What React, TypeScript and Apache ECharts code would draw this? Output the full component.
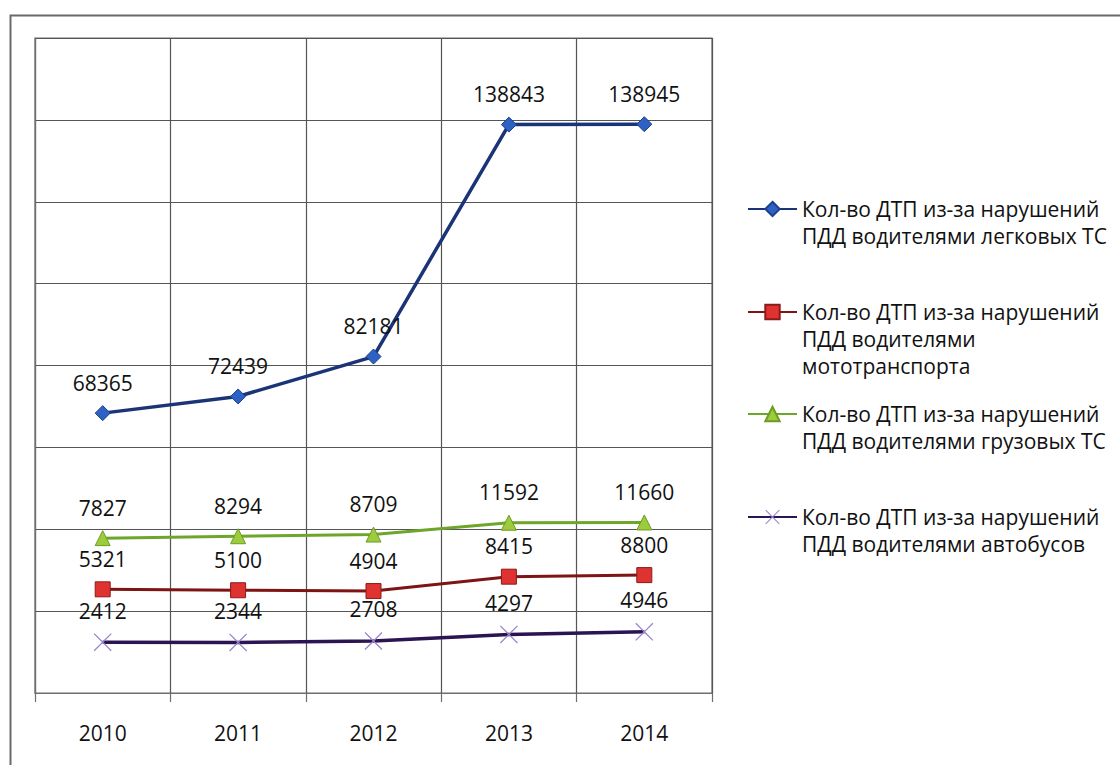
import React, { useEffect, useRef } from "react";
import * as echarts from "echarts";

const categories = ["2010", "2011", "2012", "2013", "2014"];
const carsValues = [68365, 72439, 82181, 138843, 138945];
const motoValues = [5321, 5100, 4904, 8415, 8800];
const truckValues = [7827, 8294, 8709, 11592, 11660];
const busValues = [2412, 2344, 2708, 4297, 4946];

const seriesNames = [
  "Кол-во ДТП из-за нарушений ПДД водителями легковых ТС",
  "Кол-во ДТП из-за нарушений ПДД водителями мототранспорта",
  "Кол-во ДТП из-за нарушений ПДД водителями грузовых ТС",
  "Кол-во ДТП из-за нарушений ПДД водителями автобусов",
];
const legendLines = [
  ["Кол-во ДТП из-за нарушений", "ПДД водителями легковых ТС"],
  ["Кол-во ДТП из-за нарушений", "ПДД водителями", "мототранспорта"],
  ["Кол-во ДТП из-за нарушений", "ПДД водителями грузовых ТС"],
  ["Кол-во ДТП из-за нарушений", "ПДД водителями автобусов"],
];

const FONT = "'Open Sans', 'Noto Sans', sans-serif";
const X_SYMBOL =
  "path://M0,1 L1,0 L10,9 L19,0 L20,1 L11,10 L20,19 L19,20 L10,11 L1,20 L0,19 L9,10 Z";

export default function App() {
  const ref = useRef<HTMLDivElement>(null);

  useEffect(() => {
    if (!ref.current) return;
    const chart = echarts.init(ref.current, undefined, { renderer: "svg" });

    const labelStyle = {
      show: true,
      position: "top",
      distance: 12,
      fontFamily: FONT,
      fontSize: 21,
      color: "#111",
    };

    const LINE_H = 27;
    const legendFirstLineY = [209, 312, 414, 517];
    const legends = seriesNames.map((name, i) => {
      const n = legendLines[i].length;
      const blanks = Array.from({ length: n - 1 }, () => " ");
      const text = blanks.concat(legendLines[i]).join("\n");
      return {
        orient: "vertical",
        left: 747,
        top: legendFirstLineY[i] - ((2 * n - 1) * LINE_H) / 2,
        padding: 0,
        itemWidth: 49,
        itemHeight: 18,
        selectedMode: false,
        data: [name],
        formatter: () => text,
        textStyle: {
          fontFamily: FONT,
          fontSize: 21,
          lineHeight: LINE_H,
          color: "#111",
        },
      };
    });

    chart.setOption({
      animation: false,
      backgroundColor: "#ffffff",
      grid: {
        left: 35,
        top: 38,
        width: 677,
        height: 655,
        show: true,
        borderColor: "#6e6e6e",
        borderWidth: 1.2,
      },
      legend: legends,
      graphic: [
        {
          type: "rect",
          left: 8,
          top: 13,
          shape: { width: 1200, height: 800 },
          style: { fill: "none", stroke: "#6a6a6a", lineWidth: 2 },
          silent: true,
        },
      ],
      xAxis: {
        type: "category",
        data: categories,
        boundaryGap: true,
        axisLine: { show: true, lineStyle: { color: "#6e6e6e", width: 1.2 } },
        axisTick: { show: true, length: 9, lineStyle: { color: "#6e6e6e", width: 1.2 } },
        splitLine: { show: true, lineStyle: { color: "#555", width: 1.2 } },
        axisLabel: { margin: 29, fontFamily: FONT, fontSize: 21, color: "#111" },
      },
      yAxis: [
        {
          type: "value",
          min: 0,
          max: 160000,
          interval: 20000,
          axisLine: { show: true, lineStyle: { color: "#6e6e6e", width: 1.2 } },
          axisTick: { show: false },
          axisLabel: { show: false },
          splitLine: { show: true, lineStyle: { color: "#555", width: 1.2 } },
        },
        { type: "value", show: false, min: -10000, max: 150000, splitLine: { show: false } },
        { type: "value", show: false, min: -20000, max: 140000, splitLine: { show: false } },
        { type: "value", show: false, min: -30000, max: 130000, splitLine: { show: false } },
      ],
      series: [
        {
          name: seriesNames[0],
          type: "line",
          yAxisIndex: 0,
          data: carsValues,
          symbol: "diamond",
          symbolSize: 15,
          lineStyle: { color: "#1B3477", width: 3.5 },
          itemStyle: { color: "#2D62C4", borderColor: "#1E3F8F", borderWidth: 1 },
          label: labelStyle,
        },
        {
          name: seriesNames[1],
          type: "line",
          yAxisIndex: 2,
          data: motoValues,
          symbol: "rect",
          symbolSize: 15,
          lineStyle: { color: "#7E1414", width: 3 },
          itemStyle: { color: "#DE3331", borderColor: "#8E1A1A", borderWidth: 1 },
          label: labelStyle,
        },
        {
          name: seriesNames[2],
          type: "line",
          yAxisIndex: 3,
          data: truckValues,
          symbol: "triangle",
          symbolSize: 15,
          lineStyle: { color: "#6EA62A", width: 3 },
          itemStyle: { color: "#9CCB3D", borderColor: "#6C9C22", borderWidth: 1 },
          label: labelStyle,
        },
        {
          name: seriesNames[3],
          type: "line",
          yAxisIndex: 1,
          data: busValues,
          symbol: X_SYMBOL,
          symbolSize: 18,
          lineStyle: { color: "#2A1452", width: 3.5 },
          itemStyle: { color: "#9A84CC" },
          label: labelStyle,
        },
      ],
    });

    return () => chart.dispose();
  }, []);

  return (
    <div
      ref={ref}
      style={{ position: "fixed", left: 0, top: 0, width: 1120, height: 765 }}
    />
  );
}
